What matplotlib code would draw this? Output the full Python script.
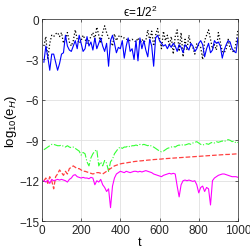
import numpy as np
import matplotlib
matplotlib.use("Agg")
import matplotlib.pyplot as plt

plt.rcParams['font.family'] = ['Liberation Sans', 'DejaVu Sans']
plt.rcParams['mathtext.fontset'] = 'custom'
plt.rcParams['mathtext.rm'] = 'Liberation Sans'
plt.rcParams['mathtext.it'] = 'Liberation Sans:italic'

t = np.arange(10, 1001, 10)

err_black = [-2.0, -1.3, -3.0, -1.8, -1.2, -1.3, -1.1, -1.0, -1.3, -1.0,
             -1.8, -1.5, -1.0, -1.7, -2.0, -1.6, -0.8, -1.5, -1.8, -1.6,
             -1.2, -1.5, -1.8, -1.6, -1.3, -1.0, -1.5, -0.6, -1.2, -1.8,
             -1.0, -0.5, -1.0, -1.4, -1.6, -2.0, -1.1, -1.6, -1.3, -1.2,
             -1.4, -1.4, -1.5, -1.5, -1.6, -1.5, -1.6, -1.7, -1.4, -1.8,
             -1.5, -1.7, -1.6, -0.8, -1.6, -0.9, -2.0, -1.2, -0.7, -1.4,
             -2.2, -0.9, -1.6, -1.2, -2.0, -1.3, -2.6, -1.3, -0.8, -2.4,
             -1.0, -2.8, -1.5, -2.3, -1.2, -2.0, -2.1, -2.6, -1.8, -2.0,
             -2.1, -3.0, -1.6, -1.2, -0.8, -1.5, -2.2, -1.9, -2.3, -1.0,
             -1.7, -2.4, -2.5, -2.2, -1.5, -2.2, -2.3, -2.5, -1.8, -0.8]

err_blue = [-3.2, -2.0, -2.8, -3.8, -2.6, -2.6, -3.2, -3.8, -3.3, -2.6,
            -2.5, -1.2, -2.0, -2.3, -2.4, -2.0, -1.6, -2.2, -1.2, -1.8,
            -2.4, -2.2, -1.3, -2.0, -1.7, -2.3, -1.4, -2.2, -1.8, -1.4,
            -2.0, -2.4, -1.8, -3.5, -1.6, -1.2, -1.8, -2.5, -2.1, -2.2,
            -1.6, -2.9, -2.0, -1.4, -2.4, -2.2, -3.0, -1.6, -3.1, -1.4,
            -2.2, -1.6, -2.3, -2.8, -1.5, -2.0, -3.5, -1.4, -1.2, -1.6,
            -1.8, -2.0, -1.9, -2.2, -1.9, -2.1, -1.8, -2.0, -2.4, -1.9,
            -2.1, -2.5, -1.9, -2.1, -2.3, -1.8, -2.0, -2.4, -2.2, -1.8,
            -1.6, -1.9, -2.8, -2.2, -1.8, -2.5, -2.3, -1.6, -1.8, -1.7,
            -2.0, -2.9, -2.3, -1.9, -1.6, -1.7, -2.2, -2.4, -2.5, -1.4]

err_green = [-9.7, -9.6, -9.5, -9.4, -9.3, -9.3, -9.35, -9.4, -9.4, -9.35,
             -9.45, -9.5, -9.4, -9.5, -9.55, -9.5, -9.6, -9.7, -9.8, -10.1,
             -9.9, -10.0, -10.6, -10.9, -10.3, -10.0, -9.8, -9.7, -10.9, -10.6,
             -10.9, -10.5, -10.7, -11.3, -10.6, -10.4, -10.0, -9.8, -9.6, -9.5,
             -9.6, -9.5, -9.5, -9.4, -9.5, -9.4, -9.4, -9.35, -9.4, -9.3,
             -9.35, -9.3, -9.35, -9.4, -9.35, -9.45, -9.5, -9.6, -9.7, -9.8,
             -9.85, -9.8, -9.7, -9.6, -9.55, -9.5, -9.45, -9.5, -9.4, -9.35,
             -9.4, -9.3, -9.35, -9.3, -9.25, -9.3, -9.2, -9.15, -9.1, -9.2,
             -9.3, -9.35, -9.3, -9.25, -9.3, -9.2, -9.15, -9.2, -9.1, -9.15,
             -9.1, -9.05, -9.1, -9.0, -8.95, -9.0, -9.1, -9.05, -9.2, -9.15]

err_red = [-12.0, -11.8, -12.2, -11.7, -12.0, -12.6, -11.7, -11.5, -11.2, -11.4,
           -11.6, -11.3, -11.5, -11.1, -11.0, -10.9, -11.0, -11.1, -11.1, -11.2,
           -11.3, -11.3, -11.35, -11.4, -11.45, -11.5, -11.45, -11.4, -11.4, -11.45,
           -11.5, -11.4, -11.3, -11.2, -11.1, -11.0, -10.9, -10.85, -10.8, -10.75,
           -10.72, -10.7, -10.68, -10.65, -10.63, -10.6, -10.58, -10.56, -10.55, -10.53,
           -10.52, -10.5, -10.49, -10.47, -10.46, -10.45, -10.43, -10.42, -10.41, -10.4,
           -10.39, -10.37, -10.36, -10.35, -10.34, -10.33, -10.32, -10.31, -10.3, -10.29,
           -10.28, -10.27, -10.26, -10.25, -10.24, -10.23, -10.22, -10.21, -10.2, -10.19,
           -10.18, -10.17, -10.16, -10.15, -10.14, -10.13, -10.12, -10.11, -10.1, -10.09,
           -10.08, -10.07, -10.06, -10.05, -10.05, -10.04, -10.03, -10.02, -10.01, -10.0]

err_magenta = [-12.0, -12.1, -11.95, -12.2, -11.9, -12.0, -11.95, -11.9, -11.95, -11.9,
               -11.95, -12.0, -12.1, -11.9, -11.8, -11.6, -11.55, -11.7, -11.75, -11.8,
               -11.75, -11.8, -11.8, -11.85, -11.75, -11.8, -12.3, -12.0, -12.1, -11.9,
               -12.3, -12.5, -12.8, -12.6, -14.0, -12.4, -11.8, -11.5, -11.4, -11.3,
               -11.35, -11.4, -11.3, -11.35, -11.4, -11.35, -11.3, -11.3, -11.35, -11.3,
               -11.35, -11.3, -11.25, -11.3, -11.35, -11.4, -11.5, -11.55, -11.6, -11.65,
               -11.7, -11.6, -11.55, -11.5, -11.45, -11.5, -11.45, -11.5, -12.4, -13.2,
               -12.3, -12.0, -11.95, -12.0, -11.95, -12.0, -12.05, -12.0, -12.3, -12.9,
               -12.5, -12.4, -12.8, -12.5, -12.6, -13.8, -12.0, -11.8, -11.7, -11.6,
               -11.55, -11.5, -11.5, -11.55, -11.6, -11.65, -11.7, -11.7, -11.7, -11.75]

fig = plt.figure(figsize=(2.51, 2.51), dpi=100)
ax = fig.add_axes([0.167, 0.115, 0.781, 0.805])

ax.plot(t, err_black, color='k', linestyle=':', linewidth=0.9)
ax.plot(t, err_blue, color='b', linestyle='-', linewidth=0.8)
ax.plot(t, err_green, color=(0.2, 1.0, 0.2), linestyle='-.', linewidth=0.8)
ax.plot(t, err_red, color=(1.0, 0.25, 0.25), linestyle='--', linewidth=0.9)
ax.plot(t, err_magenta, color=(1.0, 0.0, 1.0), linestyle='-', linewidth=0.8)

ax.set_xlim(0, 1000)
ax.set_ylim(-15, 0)
ax.set_xticks([0, 200, 400, 600, 800, 1000])
ax.set_yticks([-15, -12, -9, -6, -3, 0])
ax.grid(True, color=(0.88, 0.88, 0.88), linewidth=0.6)
ax.set_axisbelow(True)
ax.tick_params(direction='in', length=2, width=0.5, labelsize=8.5, colors=(0.15, 0.15, 0.15),
               top=True, right=True, pad=2)
for s in ax.spines.values():
    s.set_linewidth(0.5)
    s.set_color((0.15, 0.15, 0.15))

ax.set_xlabel('t', fontsize=9, labelpad=0)
ax.set_ylabel(r'log$_{10}$(e$_H$)', fontsize=9.5, labelpad=0)
ax.set_title('\u03f5=1/2$^2$', fontsize=8.5, pad=2)

fig.savefig('out.png', dpi=100)
